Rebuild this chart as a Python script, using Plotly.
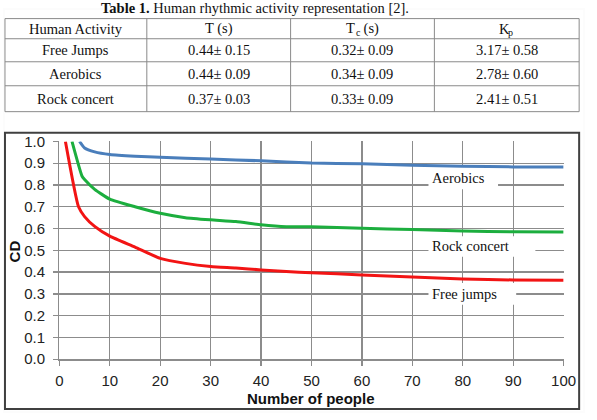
import plotly.graph_objects as go

W, H = 597, 420

# ---------- table data ----------
table_title = "<b>Table 1.</b> Human rhythmic activity representation [2]."
header = ["Human Activity", "T (s)", "T\u2009\u2009\u2009(s)", "K\u2009\u2009"]
header_sub = ["", "", "c", "p"]
activities = ["Free Jumps", "Aerobics", "Rock concert"]
T_vals = ["0.44\u00b1 0.15", "0.44\u00b1 0.09", "0.37\u00b1 0.03"]
Tc_vals = ["0.32\u00b1 0.09", "0.34\u00b1 0.09", "0.33\u00b1 0.09"]
Kp_vals = ["3.17\u00b1 0.58", "2.78\u00b1 0.60", "2.41\u00b1 0.51"]

# ---------- chart data ----------
aero_x = [4, 5, 7, 10, 15, 20, 30, 40, 50, 60, 70, 80, 90, 100]
aero_y = [1.0, 0.97, 0.952, 0.94, 0.932, 0.927, 0.919, 0.911, 0.901, 0.897, 0.891, 0.886, 0.883, 0.882]

rock_x = [2.5, 4.5, 5, 7, 10, 15, 20, 25, 30, 35, 40, 45, 50, 60, 70, 80, 90, 100]
rock_y = [1.0, 0.84, 0.825, 0.78, 0.735, 0.70, 0.67, 0.65, 0.64, 0.632, 0.617, 0.608, 0.608, 0.601, 0.595, 0.589, 0.585, 0.584]

free_x = [1.2, 3.8, 5, 7, 10, 15, 20, 25, 30, 35, 40, 45, 50, 60, 70, 80, 90, 100]
free_y = [1.0, 0.70, 0.655, 0.61, 0.565, 0.515, 0.463, 0.44, 0.426, 0.419, 0.41, 0.403, 0.397, 0.387, 0.378, 0.368, 0.364, 0.363]

labels = ["Aerobics", "Rock concert", "Free jumps"]
label_text_x = [73.6, 73.6, 73.6]
label_y = [0.83, 0.522, 0.30]
box_x0 = [73.2, 73.2, 73.2]
box_x1 = [87.0, 94.4, 90.6]
box_y0 = [0.78, 0.47, 0.25]
box_y1 = [0.885, 0.565, 0.35]

x_ticks = list(range(0, 101, 10))
y_ticks = [i / 10 for i in range(11)]


def px(x):
    return x / W


def py(y):
    return 1 - y / H


SERIF = "Liberation Serif"
SANS = "Liberation Sans"
TXT = "#111"

fig = go.Figure()

# faint page edge
fig.add_shape(type="rect", xref="paper", yref="paper", x0=0, x1=1, y0=0, y1=1,
              line=dict(color="#fcfcfc", width=2), fillcolor="rgba(0,0,0,0)")

col_edges = [1, 147, 295, 443, 592]
row_edges = [10, 31, 55, 80, 107]
tline = dict(color="#8a8a8a", width=1)
for yv in row_edges:
    fig.add_shape(type="line", xref="paper", yref="paper", x0=px(col_edges[0]), x1=px(col_edges[-1]),
                  y0=py(yv), y1=py(yv), line=tline)
for xv in col_edges:
    fig.add_shape(type="line", xref="paper", yref="paper", x0=px(xv), x1=px(xv),
                  y0=py(row_edges[0]), y1=py(row_edges[-1]), line=tline)

columns = [activities, T_vals, Tc_vals, Kp_vals]
rows = [header] + [[c[i] for c in columns] for i in range(len(activities))]
for r, row in enumerate(rows):
    yc = (row_edges[r] + row_edges[r + 1]) / 2
    for c, txt in enumerate(row):
        xc = (col_edges[c] + col_edges[c + 1]) / 2
        fig.add_annotation(x=px(xc), y=py(yc), xref="paper", yref="paper", text=txt,
                           showarrow=False, xanchor="center", yanchor="middle",
                           font=dict(family=SERIF, size=14.5, color=TXT))

sub_dx = [0, 0, -4, 4]
for c, s in enumerate(header_sub):
    if s:
        xc = (col_edges[c] + col_edges[c + 1]) / 2 + sub_dx[c]
        yc = (row_edges[0] + row_edges[1]) / 2 + 4
        fig.add_annotation(x=px(xc), y=py(yc), xref="paper", yref="paper", text=s,
                           showarrow=False, xanchor="center", yanchor="middle",
                           font=dict(family=SERIF, size=10, color=TXT))

fig.add_annotation(x=px(258), y=py(-1), xref="paper", yref="paper", text=table_title,
                   showarrow=False, xanchor="center", yanchor="middle", borderpad=0,
                   font=dict(family=SERIF, size=14.5, color=TXT))

colors = ["#4a7ebb", "#1cae3e", "#f21414"]
for xs, ys, c, n in [(aero_x, aero_y, colors[0], labels[0]),
                     (rock_x, rock_y, colors[1], labels[1]),
                     (free_x, free_y, colors[2], labels[2])]:
    fig.add_trace(go.Scatter(x=xs, y=ys, mode="lines", name=n,
                             line=dict(color=c, width=3, shape="spline", smoothing=0.5),
                             showlegend=False))

for t, x, y, bx0, bx1, by0, by1 in zip(labels, label_text_x, label_y, box_x0, box_x1, box_y0, box_y1):
    fig.add_shape(type="rect", xref="x", yref="y", x0=bx0, x1=bx1, y0=by0, y1=by1,
                  line=dict(width=0), fillcolor="white", layer="between")
    fig.add_annotation(x=x, y=y, xref="x", yref="y", text=t, showarrow=False,
                       xanchor="left", yanchor="middle",
                       font=dict(family=SERIF, size=14.5, color=TXT))

fig.add_annotation(x=px(11), y=py(253), xref="paper", yref="paper", text="<b>CD</b>",
                   textangle=-90, showarrow=False, xanchor="center", yanchor="middle",
                   font=dict(family=SANS, size=15, color=TXT))
fig.add_annotation(x=px(316), y=py(406), xref="paper", yref="paper", text="<b>Number of people</b>",
                   showarrow=False, xanchor="center", yanchor="middle",
                   font=dict(family=SANS, size=15, color=TXT))

fig.add_shape(type="rect", xref="paper", yref="paper",
              x0=px(1), x1=px(592), y0=py(417), y1=py(129),
              line=dict(color="#404040", width=2), fillcolor="rgba(0,0,0,0)")

grid = "#8c8c8c"
axis_common = dict(showgrid=True, gridcolor=grid, gridwidth=1.3, zeroline=False,
                   showline=True, linecolor=grid, linewidth=1.3,
                   ticks="outside", ticklen=5, tickcolor=grid, tickwidth=1.3,
                   tickfont=dict(family=SANS, size=15, color="#222"))
fig.update_layout(
    width=W, height=H, margin=dict(l=0, r=0, t=0, b=0),
    paper_bgcolor="white", plot_bgcolor="white",
    xaxis=dict(domain=[px(57), px(576)], range=[0, 100], tickvals=x_ticks,
               ticklabelstandoff=2, **axis_common),
    yaxis=dict(domain=[py(365), py(138)], range=[0, 1], tickvals=y_ticks, tickformat=".1f",
               ticklabelstandoff=5, **axis_common),
)

fig.write_html("out.html", config={"staticPlot": True},
               post_script="document.body.style.margin='0px';"
                           "document.documentElement.style.overflow='hidden';")
